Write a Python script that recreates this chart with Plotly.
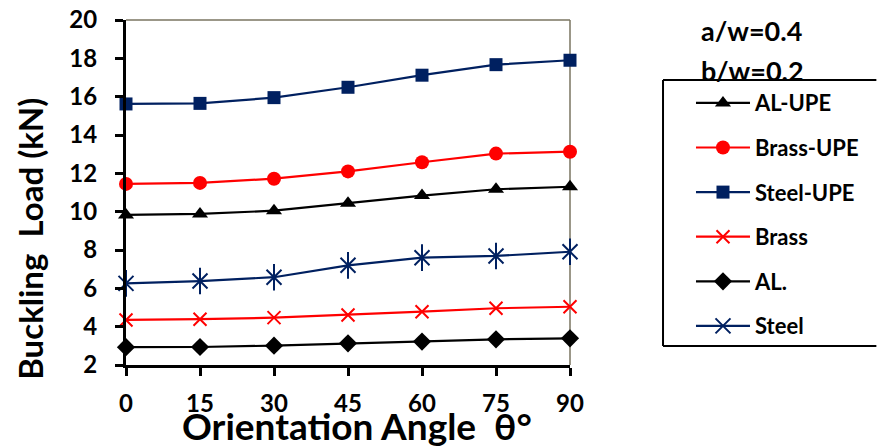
import plotly.graph_objects as go

angles = [0, 15, 30, 45, 60, 75, 90]
al_upe = [9.83, 9.88, 10.05, 10.44, 10.84, 11.17, 11.30]
brass_upe = [11.45, 11.50, 11.72, 12.10, 12.58, 13.03, 13.13]
steel_upe = [15.62, 15.65, 15.95, 16.49, 17.12, 17.67, 17.90]
brass = [4.35, 4.39, 4.47, 4.61, 4.78, 4.96, 5.04]
al = [2.93, 2.94, 3.01, 3.13, 3.22, 3.34, 3.39]
steel = [6.26, 6.38, 6.58, 7.20, 7.60, 7.69, 7.91]
y_ticks = [2, 4, 6, 8, 10, 12, 14, 16, 18, 20]
x_ticks = [0, 15, 30, 45, 60, 75, 90]

RED = "#ff0000"
NAVY = "#002060"
BLACK = "#000000"
FONT = "Lato"

fig = go.Figure()

def add(name, y, color, symbol, size, group, open_=False):
    fig.add_trace(go.Scatter(
        x=angles, y=y, name=name, mode="lines+markers",
        line=dict(color=color, width=2.2),
        marker=dict(symbol=symbol, size=size, color=color,
                    line=dict(color=color, width=2 if open_ else 0)),
        cliponaxis=False, legendgroup=group))

add("AL-UPE", al_upe, BLACK, "triangle-up", 14, "g1")
add("Brass-UPE", brass_upe, RED, "circle", 14, "g2")
add("Steel-UPE", steel_upe, NAVY, "square", 13, "g3")
add("Brass", brass, RED, "x-thin-open", 13, "g4", open_=True)
add("AL.", al, BLACK, "diamond", 14, "g5")
add("Steel", steel, NAVY, "x-thin-open", 15, "g6", open_=True)
fig.add_trace(go.Scatter(
    x=angles, y=steel, mode="markers", showlegend=False, legendgroup="g6",
    marker=dict(symbol="line-ns-open", size=19, color=NAVY,
                line=dict(color=NAVY, width=2)),
    cliponaxis=False, hoverinfo="skip"))

fig.update_layout(
    width=888, height=446,
    margin=dict(l=118, r=326, t=12, b=89),
    paper_bgcolor="white", plot_bgcolor="white",
    font=dict(family=FONT, color="black"),
    showlegend=True,
    legend=dict(
        x=1.2725, y=0.820, xanchor="left", yanchor="top",
        borderwidth=0, bgcolor="rgba(0,0,0,0)", bordercolor="rgba(0,0,0,0)",
        font=dict(family=FONT, size=22, color="black", weight="bold"),
        traceorder="grouped", tracegroupgap=13, itemwidth=54,
    ),
    xaxis=dict(
        range=[0, 90], tickvals=x_ticks, ticktext=[str(v) for v in x_ticks],
        showgrid=False, zeroline=False, showline=True, linecolor="black",
        linewidth=3, ticks="outside", ticklen=8, tickwidth=3, tickcolor="black",
        tickfont=dict(family=FONT, size=24, color="black", weight="bold"),
        ticklabelstandoff=7, automargin=False, ticklabeloverflow="allow",
    ),
    yaxis=dict(
        range=[2, 20], tickvals=y_ticks, ticktext=[str(v) for v in y_ticks],
        showgrid=False, zeroline=False, showline=True, linecolor="black",
        linewidth=3, ticks="outside", ticklen=8, tickwidth=3, tickcolor="black",
        tickfont=dict(family=FONT, size=24, color="black", weight="bold"),
        ticklabelstandoff=13, automargin=False, ticklabeloverflow="allow",
    ),
)

# top and right frame lines
fig.add_shape(type="line", xref="paper", yref="paper", x0=0, x1=1, y0=1, y1=1,
              line=dict(color="#7a7560", width=1.5), layer="below")
fig.add_shape(type="line", xref="paper", yref="paper", x0=1, x1=1, y0=0, y1=1,
              line=dict(color="#7a7560", width=1.5), layer="below")
# legend box (right side runs off the picture)
LX0, LX1, LY0, LY1 = 1.2095, 1.69, 0.055, 0.826
for (a, b, c, d) in [(LX0, LX1, LY1, LY1), (LX0, LX1, LY0, LY0), (LX0, LX0, LY0, LY1)]:
    fig.add_shape(type="line", xref="paper", yref="paper", x0=a, x1=b, y0=c, y1=d,
                  line=dict(color="black", width=2))

fig.add_annotation(text="Buckling  Load (kN)", xref="paper", yref="paper",
                   x=-0.216, y=0.366, textangle=-90, showarrow=False,
                   xanchor="center", yanchor="middle",
                   font=dict(family=FONT, size=33, color="black", weight="bold"))
fig.add_annotation(text="Orientation Angle  θ°", xref="paper", yref="paper",
                   x=0.52, y=-0.174, showarrow=False,
                   xanchor="center", yanchor="middle",
                   font=dict(family=FONT, size=37, color="black", weight="bold"))
fig.add_annotation(text="a/w=0.4", xref="paper", yref="paper", x=1.29, y=0.971,
                   xanchor="left", yanchor="middle", showarrow=False,
                   font=dict(family=FONT, size=27, color="black", weight="bold"))
fig.add_annotation(text="b/w=0.2", xref="paper", yref="paper", x=1.29, y=0.855,
                   xanchor="left", yanchor="middle", showarrow=False,
                   font=dict(family=FONT, size=27, color="black", weight="bold"))

fig.write_html("out.html")
